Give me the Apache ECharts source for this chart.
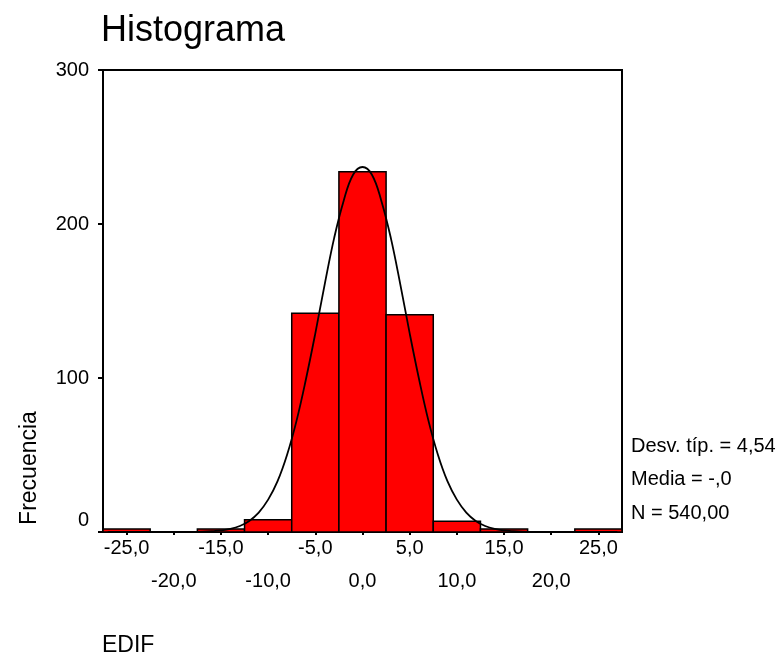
<!DOCTYPE html>
<html><head><meta charset="utf-8">
<script src="https://cdn.jsdelivr.net/npm/echarts@6/dist/echarts.min.js"></script>
<style>html,body{margin:0;padding:0;background:#fff}#c{width:780px;height:660px}</style>
</head><body><div id="c"></div>
<script>
// Histogram bins (EDIF), width 5
const binCenters = [-25, -20, -15, -10, -5, 0, 5, 10, 15, 20, 25];
const binCounts  = [2, 0, 2, 8, 142, 234, 141, 7, 2, 0, 2];
const binWidth = 5;

// Normal curve
const curveX = [-27,-26,-25,-24,-23,-22,-21,-20,-19,-18,-17,-16,-15,-14,-13,-12,-11,-10,-9,-8,-7,-6,-5,-4,-3,-2,-1,0,
                1,2,3,4,5,6,7,8,9,10,11,12,13,14,15,16,17,18,19,20,21,22,23,24,25,26,27];
const curveY = [0,0,0,0,0,0,0,0,0,0.1,0.2,0.5,1.0,2.0,3.9,7.2,12.6,21,33,50,72,99,129,161,191,215,232,237,
                232,215,191,161,129,99,72,50,33,21,12.6,7.2,3.9,2.0,1.0,0.5,0.2,0.1,0,0,0,0,0,0,0,0,0];

const xTickValues = [-25, -20, -15, -10, -5, 0, 5, 10, 15, 20, 25];
const xTickLabels = ['-25,0', '-20,0', '-15,0', '-10,0', '-5,0', '0,0', '5,0', '10,0', '15,0', '20,0', '25,0'];
const yTickValues = [0, 100, 200, 300];
const statLines = ['Desv. típ. = 4,54', 'Media = -,0', 'N = 540,00'];
const titleText = 'Histograma';
const xName = 'EDIF';
const yName = 'Frecuencia';

const FONT = '"Liberation Sans", Arial, sans-serif';
const chart = echarts.init(document.getElementById('c'), null, {renderer: 'canvas'});

const statGraphics = statLines.map((t, i) => ({
  type: 'text', left: 631, top: 436 + i * 33.5,
  style: {text: t, fontSize: 20, fontFamily: FONT, fill: '#000'}
}));

chart.setOption({
  animation: false,
  backgroundColor: '#fff',
  grid: {left: 103, top: 70, width: 519, height: 462, show: true, borderColor: '#000', borderWidth: 2, backgroundColor: '#fff'},
  xAxis: {
    type: 'value', min: -27.5, max: 27.5,
    axisLine: {show: true, onZero: false, lineStyle: {color: '#000', width: 2}},
    axisTick: {show: true, customValues: xTickValues, length: 3, lineStyle: {color: '#000', width: 2}},
    axisLabel: {
      customValues: xTickValues, margin: 6,
      formatter: function (v) {
        const i = xTickValues.indexOf(v);
        const t = xTickLabels[i];
        return (i % 2) ? '{b|' + t + '}' : '{a|' + t + '}';
      },
      rich: {
        a: {fontSize: 20, fontFamily: FONT, color: '#000'},
        b: {fontSize: 20, fontFamily: FONT, color: '#000', padding: [33, 0, 0, 0]}
      }
    },
    splitLine: {show: false}
  },
  yAxis: {
    type: 'value', min: 0, max: 300, interval: 100,
    axisLine: {show: true, onZero: false, lineStyle: {color: '#000', width: 2}},
    axisTick: {show: true, length: 5, lineStyle: {color: '#000', width: 2}},
    axisLabel: {
      margin: 14,
      formatter: function (v) { return v === 0 ? '{z|0}' : '{n|' + v + '}'; },
      rich: {
        n: {fontSize: 20, fontFamily: FONT, color: '#000'},
        z: {fontSize: 20, fontFamily: FONT, color: '#000', padding: [0, 0, 24, 0]}
      }
    },
    splitLine: {show: false}
  },
  series: [
    {
      type: 'custom',
      data: binCenters.map((c, i) => [c, binCounts[i]]),
      encode: {x: 0, y: 1},
      renderItem: function (params, api) {
        const c = api.value(0), n = api.value(1);
        if (!n) return null;
        const p0 = api.coord([c - binWidth / 2, n]);
        const p1 = api.coord([c + binWidth / 2, 0]);
        return {
          type: 'rect',
          shape: {x: p0[0], y: p0[1], width: p1[0] - p0[0], height: p1[1] - p0[1]},
          style: {fill: '#ff0000', stroke: '#000', lineWidth: 1.5}
        };
      },
      z: 2
    },
    {
      type: 'line',
      data: curveX.map((x, i) => [x, curveY[i]]),
      smooth: 0.4, symbol: 'none',
      lineStyle: {color: '#000', width: 1.8},
      z: 3
    }
  ],
  graphic: [
    {type: 'text', left: 101, top: 13, style: {text: titleText, fontSize: 36, fontFamily: FONT, fill: '#000'}},
    {type: 'text', left: 102, top: 634, style: {text: xName, fontSize: 23, fontFamily: FONT, fill: '#000'}},
    {type: 'text', x: 30, y: 468, rotation: Math.PI / 2,
     style: {text: yName, fontSize: 23, fontFamily: FONT, fill: '#000', align: 'center', verticalAlign: 'middle'}}
  ].concat(statGraphics)
});
</script>
</body></html>
